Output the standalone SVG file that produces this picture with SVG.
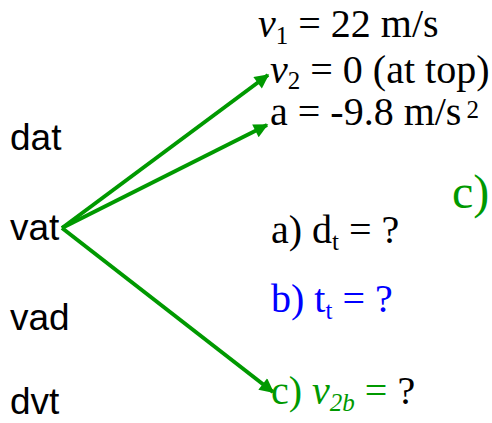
<svg xmlns="http://www.w3.org/2000/svg" width="492" height="423" viewBox="0 0 492 423">
<style>
.lab{font-family:"Liberation Sans",Arial,sans-serif;font-size:37px;fill:#000}
.eq{font-family:"Liberation Serif","Times New Roman",serif;font-size:40px;fill:#000}
.sub{font-size:25px}
.big{font-size:48px}
.it{font-style:italic}
.g{fill:#009900}
.b{fill:#0000ff}
.conn{stroke:#009900;stroke-width:4;fill:none}
</style>
<defs>
<marker id="ah" viewBox="0 0 10 10" refX="9" refY="5" markerWidth="4.5" markerHeight="3.6" orient="auto" markerUnits="strokeWidth">
<path d="M0,0 L10,5 L0,10 Z" fill="#009900"/>
</marker>
</defs>
<rect width="492" height="423" fill="#fff"/>
<g id="labels">
<text class="lab" x="10" y="150">dat</text>
<text class="lab" x="10" y="240">vat</text>
<text class="lab" x="10" y="330">vad</text>
<text class="lab" x="10" y="414">dvt</text>
</g>
<g id="connectors">
<line class="conn" x1="62" y1="228" x2="268" y2="75" marker-end="url(#ah)"/>
<line class="conn" x1="62" y1="228" x2="267" y2="125" marker-end="url(#ah)"/>
<line class="conn" x1="62" y1="228" x2="273" y2="392" marker-end="url(#ah)"/>
</g>
<g id="givens">
<text class="eq" x="258" y="37"><tspan class="it">v</tspan><tspan class="sub" dy="7">1</tspan><tspan dy="-7"> = 22 m/s</tspan></text>
<text class="eq" x="270" y="83"><tspan class="it">v</tspan><tspan class="sub" dy="6">2</tspan><tspan dy="-6"> = 0 (at top)</tspan></text>
<text class="eq" x="270" y="125">a = -9.8 m/s<tspan class="sub" dx="5" dy="-7">2</tspan></text>
</g>
<g id="questions">
<text class="eq" x="271" y="243">a) d<tspan class="sub" dy="7">t</tspan><tspan dy="-7"> = ?</tspan></text>
<text class="eq b" x="271" y="312">b) t<tspan class="sub" dy="7">t</tspan><tspan dy="-7"> = ?</tspan></text>
<text class="eq" x="271" y="404"><tspan class="g">c) </tspan><tspan class="g it">v</tspan><tspan class="g it sub" dy="7">2b</tspan><tspan class="g" dy="-7"> = </tspan>?</text>
<text class="eq g big" x="452" y="208">c)</text>
</g>
</svg>
